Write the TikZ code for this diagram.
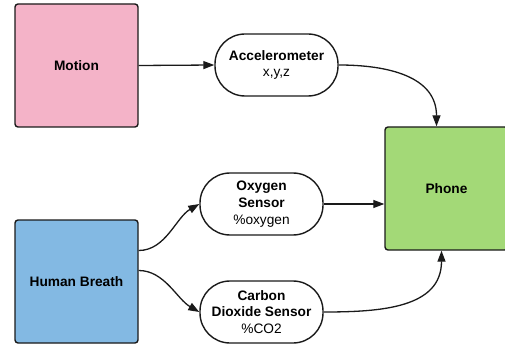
\documentclass[tikz,border=0pt]{standalone}
\usepackage{fontspec}
\setmainfont{Liberation Sans}
\usetikzlibrary{arrows.meta}
\definecolor{pinkc}{HTML}{F4B3C8}
\definecolor{bluec}{HTML}{83B9E3}
\definecolor{greenc}{HTML}{A3D977}
\definecolor{linec}{HTML}{1A1A1A}
\begin{document}
\begin{tikzpicture}[x=1pt,y=-1pt,
  box/.style={draw=linec,line width=1.4pt,rounded corners=3pt,minimum width=123pt,minimum height=123pt,inner sep=0pt,font=\fontsize{13.7}{16.7}\selectfont\bfseries,align=center},
  pill/.style={draw=linec,line width=1.4pt,fill=white,rounded corners=30pt,minimum width=123pt,minimum height=62pt,inner sep=0pt,font=\fontsize{13.7}{16.7}\selectfont,align=center},
  conn/.style={draw=linec,line width=1.3pt,-{Triangle[length=11pt,width=8pt]}}]
\useasboundingbox (0,0) rectangle (505,347);
\clip (0,0) rectangle (505,347);
\node[box,fill=pinkc] (mo) at (76.5,65.5) {Motion};
\node[box,fill=bluec] (hb) at (76.5,281.5) {Human Breath};
\node[box,fill=greenc] (ph) at (446.5,188.5) {Phone};
\node[pill] (ac) at (276.5,65) {\textbf{Accelerometer}\\x,y,z};
\node[pill] (ox) at (261.5,204) {\textbf{Oxygen}\\\textbf{Sensor}\\\%oxygen};
\node[pill] (co) at (261.5,312) {\textbf{Carbon}\\\textbf{Dioxide Sensor}\\\%CO2};
\draw[conn] (mo.east) -- (ac.west);
\draw[conn] (ac.east) to[out=0,in=90,looseness=1.1] ([xshift=-10pt]ph.north);
\draw[conn] ([yshift=31pt]hb.east) to[out=0,in=210,looseness=0.9] (ox.west);
\draw[conn] ([yshift=11pt]hb.east) to[out=0,in=150,looseness=0.9] (co.west);
\draw[conn] (ox.east) -- (ox.east -| ph.west);
\draw[conn] (co.east) to[out=0,in=-90,looseness=1.1] ([xshift=-5pt]ph.south);
\end{tikzpicture}
\end{document}
